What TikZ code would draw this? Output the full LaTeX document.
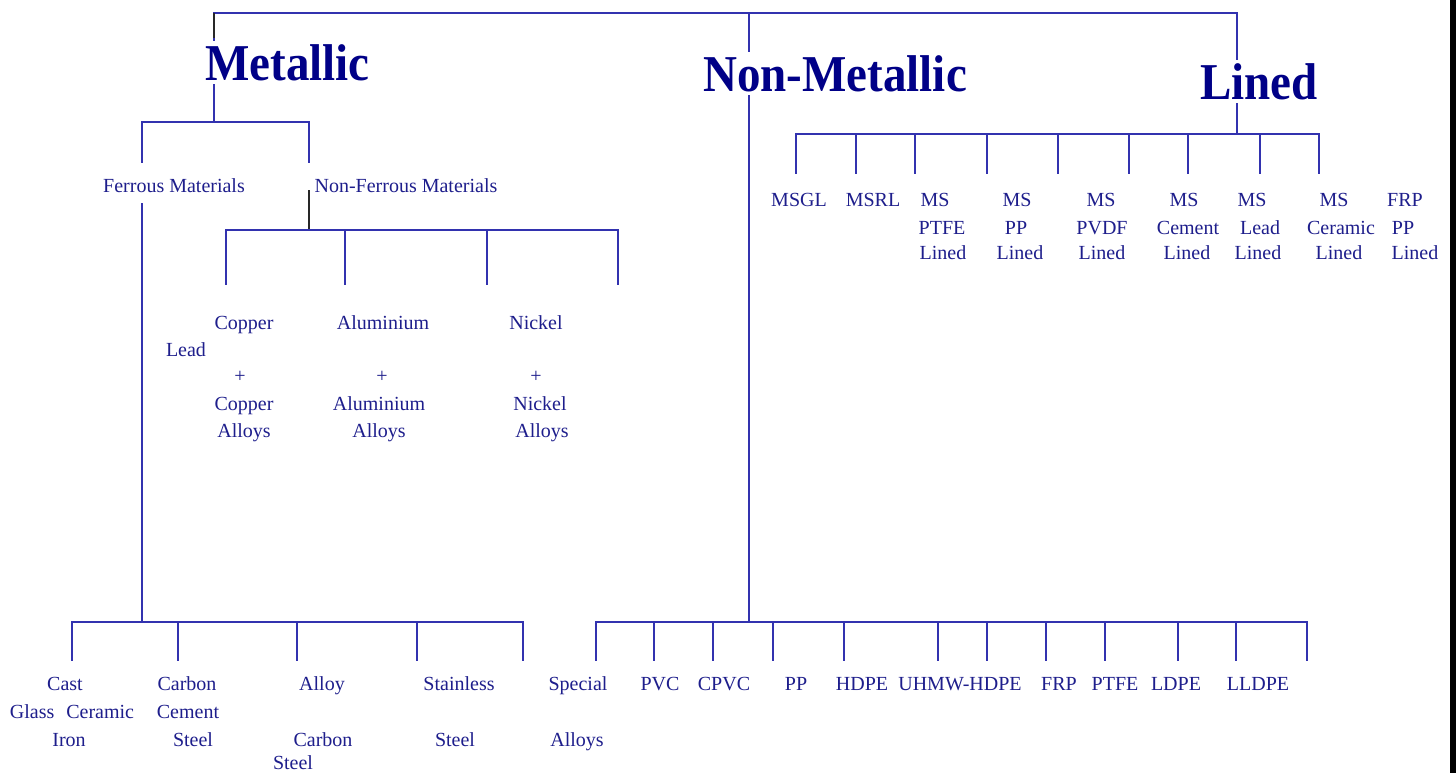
\documentclass[tikz,border=0pt]{standalone}
\usepackage{fontspec}
\setmainfont{Liberation Serif}
\definecolor{headc}{RGB}{0,0,135}
\definecolor{txtc}{RGB}{30,30,140}
\definecolor{lnc}{RGB}{50,50,175}
\definecolor{tickc}{RGB}{40,40,40}
\begin{document}
\begin{tikzpicture}[x=1pt,y=-1pt,
  conn/.style={draw=lnc,line width=2pt,line cap=rect},
  tickline/.style={draw=tickc,line width=2pt},
  head/.style={text=headc,fill=white,inner sep=0pt,anchor=base west,text height=40pt,text depth=3pt,font=\fontsize{47}{50}\selectfont\bfseries},
  lbl/.style={text=txtc,inner sep=0pt,text height=14pt,text depth=0pt,font=\fontsize{20}{24}\selectfont}]
\fill[white] (0,0) rectangle (1456,773);
\useasboundingbox (0,0) rectangle (1456,773);
\fill[black] (1450,0) rectangle (1456,773);

% ---- top level
\coordinate (tM) at (214,13);
\coordinate (tN) at (749,13);
\coordinate (tL) at (1237,13);
\coordinate (jM) at (214,122);
\coordinate (jN) at (749,622);
\coordinate (jL) at (1237,134);
\draw[conn] (tM) -- (tL);
\draw[conn] (tM) -- (jM);
\draw[conn] (tN) -- (jN);
\draw[conn] (tL) -- (jL);
\coordinate (tMk) at (214,38);
\draw[tickline] (tM) -- (tMk);

\node[head] (metal) at (205,81) {\scalebox{1}[1.1]{Metallic}};
\node[head] (nonmetal) at (703,92) {\scalebox{1}[1.1]{Non-Metallic}};
\node[head] (lined) at (1200,100) {\scalebox{1}[1.1]{Lined}};

% ---- metallic subtree
\coordinate (mbL) at (142,122);
\coordinate (mbR) at (309,122);
\coordinate (fdrop) at (142,162);
\coordinate (nfdrop) at (309,162);
\draw[conn] (mbL) -- (mbR);
\draw[conn] (mbL) -- (fdrop);
\draw[conn] (mbR) -- (nfdrop);
\node[lbl] (fm) at (174,185) {Ferrous Materials};
\node[lbl] (nfm) at (406,185) {Non-Ferrous Materials};

% ferrous trunk and bus
\coordinate (fTop) at (142,204);
\coordinate (fBot) at (142,622);
\draw[conn] (fTop) -- (fBot);
\coordinate (fbL) at (72,622);
\coordinate (fbR) at (523,622);
\draw[conn] (fbL) -- (fbR);
\foreach \x/\n in {72/1,178/2,297/3,417/4,523/5}{
  \coordinate (fd\n) at (\x,660);
  \draw[conn] (fd\n |- fbL) -- (fd\n);
}

% non-ferrous
\coordinate (nfTop) at (309,190);
\coordinate (nfJ) at (309,230);
\draw[tickline] (nfTop) -- (nfJ);
\coordinate (nbL) at (226,230);
\coordinate (nbR) at (618,230);
\draw[conn] (nbL) -- (nbR);
\foreach \x/\n in {226/1,345/2,487/3,618/4}{
  \coordinate (nd\n) at (\x,284);
  \draw[conn] (nd\n |- nbL) -- (nd\n);
}
\node[lbl] (cu1) at (244,322) {Copper};
\node[lbl] (lead) at (186,349) {Lead};
\node[lbl] (cup) at (240,375) {+};
\node[lbl] (cu2) at (244,403) {Copper};
\node[lbl] (cua) at (244,430) {Alloys};
\node[lbl] (al1) at (383,322) {Aluminium};
\node[lbl] (alp) at (382,375) {+};
\node[lbl] (al2) at (379,403) {Aluminium};
\node[lbl] (ala) at (379,430) {Alloys};
\node[lbl] (ni1) at (536,322) {Nickel};
\node[lbl] (nip) at (536,375) {+};
\node[lbl] (ni2) at (540,403) {Nickel};
\node[lbl] (nia) at (542,430) {Alloys};

% ferrous leaves
\node[lbl] (cast) at (65,683) {Cast};
\node[lbl] (glass) at (72,711) {Glass\hspace{12pt}Ceramic};
\node[lbl] (iron) at (69,739) {Iron};
\node[lbl] (carb1) at (187,683) {Carbon};
\node[lbl] (cement) at (188,711) {Cement};
\node[lbl] (steel1) at (193,739) {Steel};
\node[lbl] (alloy) at (322,683) {Alloy};
\node[lbl] (carb2) at (323,739) {Carbon};
\node[lbl] (steel2) at (293,762) {Steel};
\node[lbl] (stainless) at (459,683) {Stainless};
\node[lbl] (steel3) at (455,739) {Steel};

% ---- non-metallic bus
\coordinate (pbL) at (596,622);
\coordinate (pbR) at (1307,622);
\draw[conn] (pbL) -- (pbR);
\foreach \x/\n in {596/1,654/2,713/3,773/4,844/5,938/6,987/7,1046/8,1105/9,1178/10,1236/11,1307/12}{
  \coordinate (pd\n) at (\x,660);
  \draw[conn] (pd\n |- pbL) -- (pd\n);
}
\node[lbl] (special) at (578,683) {Special};
\node[lbl] (salloys) at (577,739) {Alloys};
\node[lbl] (pvc) at (660,683) {PVC};
\node[lbl] (cpvc) at (724,683) {CPVC};
\node[lbl] (pp) at (796,683) {PP};
\node[lbl] (hdpe) at (862,683) {HDPE};
\node[lbl] (uhmw) at (960,683) {UHMW-HDPE};
\node[lbl] (frp) at (1059,683) {FRP};
\node[lbl] (ptfe) at (1115,683) {PTFE};
\node[lbl] (ldpe) at (1176,683) {LDPE};
\node[lbl] (lldpe) at (1258,683) {LLDPE};

% ---- lined subtree
\coordinate (lbL) at (796,134);
\coordinate (lbR) at (1319,134);
\draw[conn] (lbL) -- (lbR);
\foreach \x/\n in {796/1,856/2,915/3,987/4,1058/5,1129/6,1188/7,1260/8,1319/9}{
  \coordinate (ld\n) at (\x,173);
  \draw[conn] (ld\n |- lbL) -- (ld\n);
}
\node[lbl] (msgl) at (799,199) {MSGL};
\node[lbl] (msrl) at (873,199) {MSRL};
\node[lbl] (ms1) at (935,199) {MS};
\node[lbl] (ptfeL) at (942,227) {PTFE};
\node[lbl] (lin1) at (943,252) {Lined};
\node[lbl] (ms2) at (1017,199) {MS};
\node[lbl] (ppL) at (1016,227) {PP};
\node[lbl] (lin2) at (1020,252) {Lined};
\node[lbl] (ms3) at (1101,199) {MS};
\node[lbl] (pvdf) at (1102,227) {PVDF};
\node[lbl] (lin3) at (1102,252) {Lined};
\node[lbl] (ms4) at (1184,199) {MS};
\node[lbl] (cem) at (1188,227) {Cement};
\node[lbl] (lin4) at (1187,252) {Lined};
\node[lbl] (ms5) at (1252,199) {MS};
\node[lbl] (leadL) at (1260,227) {Lead};
\node[lbl] (lin5) at (1258,252) {Lined};
\node[lbl] (ms6) at (1334,199) {MS};
\node[lbl] (cer) at (1341,227) {Ceramic};
\node[lbl] (lin6) at (1339,252) {Lined};
\node[lbl] (frpL) at (1405,199) {FRP};
\node[lbl] (pp2) at (1403,227) {PP};
\node[lbl] (lin7) at (1415,252) {Lined};
\end{tikzpicture}
\end{document}
